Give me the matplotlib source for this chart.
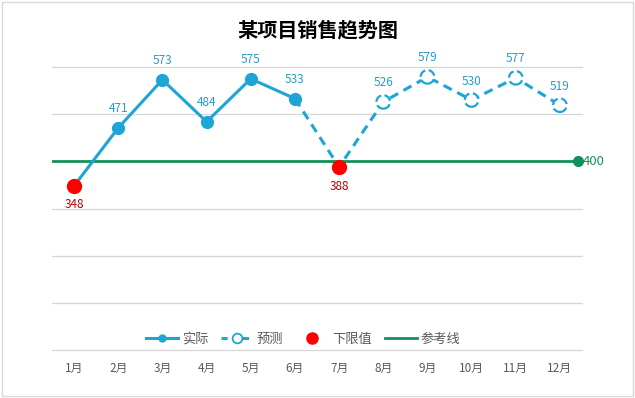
import matplotlib.pyplot as plt
from matplotlib.lines import Line2D
from matplotlib.patches import Rectangle

plt.rcParams['font.family'] = ['Liberation Sans Narrow', 'Noto Sans CJK SC', 'DejaVu Sans']

# data
months = ['1月', '2月', '3月', '4月', '5月', '6月', '7月', '8月', '9月', '10月', '11月', '12月']
actual = [348, 471, 573, 484, 575, 533]
forecast = [533, 388, 526, 579, 530, 577, 519]   # 6月 -> 12月
limit_idx = [0, 6]
limit_vals = [348, 388]
ref_value = 400

blue = '#1DA5D6'
label_blue = '#2A9BC6'
green = '#13915A'
red = '#FF0000'
gray = '#595959'


def main():
    fig = plt.figure(figsize=(6.35, 3.98), dpi=100)
    ax = fig.add_axes([52 / 635, 1 - 352 / 398, 530 / 635, 285 / 398])

    fig.patches.append(Rectangle((0.003, 0.005), 0.994, 0.99, transform=fig.transFigure,
                                 fill=False, edgecolor='#D9D9D9', linewidth=1))

    x_act = list(range(len(actual)))
    x_fc = list(range(5, 5 + len(forecast)))

    # gridlines
    for y in range(0, 700, 100):
        if y != ref_value:
            ax.axhline(y, color='#D6D6D6', linewidth=0.9, zorder=0, clip_on=False)

    # reference line
    ax.axhline(ref_value, xmin=0, xmax=(11.41 + 0.5) / 12, color=green, linewidth=2, zorder=1)
    ax.plot([11.41], [ref_value], 'o', color=green, markersize=7, zorder=5, clip_on=False)
    ax.text(11.52, ref_value, str(ref_value), color=green, fontsize=9.5, va='center', ha='left')

    # forecast dashed line + hollow dashed markers
    ax.plot(x_fc, forecast, color=blue, linewidth=2.2, linestyle=(0, (3, 2)), zorder=2)
    ax.scatter(x_fc[2:], forecast[2:], s=95, facecolor='white', edgecolor=blue,
               linewidths=1.6, linestyles='--', zorder=4)

    # actual line
    ax.plot(x_act, actual, color=blue, linewidth=2.2, marker='o', markersize=8.5, zorder=3)

    # lower limit points
    ax.plot(limit_idx, limit_vals, 'o', color=red, markersize=10, linestyle='none', zorder=6)

    # labels
    for i, v in enumerate(actual):
        if i in limit_idx:
            continue
        ax.annotate(str(v), (i, v), xytext=(0, 9), textcoords='offset points',
                    ha='center', va='bottom', color=label_blue, fontsize=8.5)
    for i, v in zip(x_fc[2:], forecast[2:]):
        ax.annotate(str(v), (i, v), xytext=(0, 9), textcoords='offset points',
                    ha='center', va='bottom', color=label_blue, fontsize=8.5)
    for i, v in zip(limit_idx, limit_vals):
        ax.annotate(str(v), (i, v), xytext=(0, -9), textcoords='offset points',
                    ha='center', va='top', color='#C00000', fontsize=8.5)

    ax.set_xlim(-0.5, 11.5)
    ax.set_ylim(-4, 600)
    ax.set_xticks(range(len(months)))
    ax.set_xticklabels(months, color=gray, fontsize=8.5)
    ax.tick_params(axis='x', length=0, pad=7)
    ax.set_yticks([])
    for s in ax.spines.values():
        s.set_visible(False)

    handles = [
        Line2D([], [], color=blue, linewidth=2.2, marker='o', markersize=5),
        Line2D([], [], color=blue, linewidth=2.2, linestyle=(0, (2, 1.5)), marker='o',
               markersize=7, markerfacecolor='white', markeredgewidth=1.3),
        Line2D([], [], color=red, linestyle='none', marker='o', markersize=8),
        Line2D([], [], color=green, linewidth=2),
    ]
    ax.legend(handles, ['实际', '预测', '下限值', '参考线'], loc='center',
              bbox_to_anchor=(0.474, 13 / 285), ncol=4, frameon=False, fontsize=9.5,
              labelcolor=gray, handlelength=2.4, handletextpad=0.3, columnspacing=1.0)

    fig.text(0.5, 1 - 30 / 398, '某项目销售趋势图', ha='center', va='center',
             fontsize=14.5, fontweight='bold', family=['Noto Sans CJK SC', 'DejaVu Sans'])

    fig.savefig('out.png', dpi=100)


if __name__ == "__main__":
    main()
